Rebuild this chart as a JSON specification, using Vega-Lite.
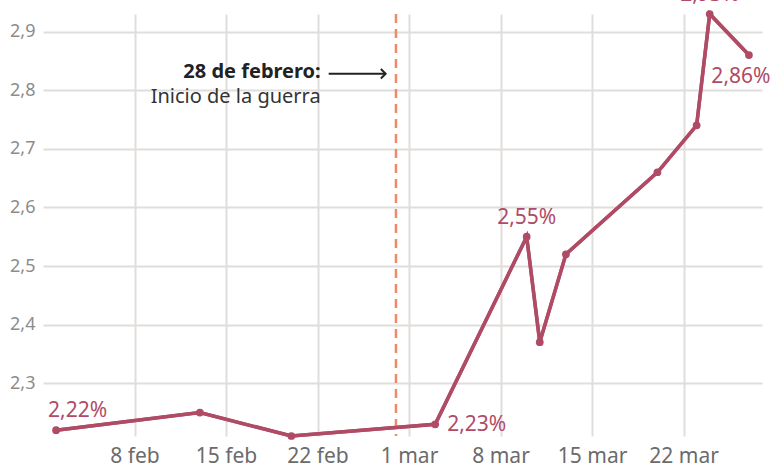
{
  "$schema": "https://vega.github.io/schema/vega-lite/v6.json",
  "width": 719,
  "height": 422,
  "autosize": {"type": "none"},
  "padding": {"left": 43, "top": 14, "right": 9, "bottom": 35},
  "background": "#ffffff",
  "config": {"view": {"stroke": null}, "font": "Noto Sans", "text": {"font": "Noto Sans"}},
  "datasets": {
    "serie": [
      {"date": "2026-02-02", "value": 2.22},
      {"date": "2026-02-13", "value": 2.25},
      {"date": "2026-02-20", "value": 2.21},
      {"date": "2026-03-03", "value": 2.23},
      {"date": "2026-03-10", "value": 2.55},
      {"date": "2026-03-11", "value": 2.37},
      {"date": "2026-03-13", "value": 2.52},
      {"date": "2026-03-20", "value": 2.66},
      {"date": "2026-03-23", "value": 2.74},
      {"date": "2026-03-24", "value": 2.93},
      {"date": "2026-03-27", "value": 2.86}
    ],
    "etiquetas": [
      {"date": "2026-02-02", "value": 2.22, "label": "2,22%"},
      {"date": "2026-03-03", "value": 2.23, "label": "2,23%"},
      {"date": "2026-03-10", "value": 2.55, "label": "2,55%"},
      {"date": "2026-03-24", "value": 2.93, "label": "2,93%"},
      {"date": "2026-03-27", "value": 2.86, "label": "2,86%"}
    ],
    "guerra": [{"date": "2026-02-28"}],
    "flecha": [{"date": "2026-02-22T20:30:00Z", "date2": "2026-02-27T05:00:00Z", "value": 2.828}]
  },
  "layer": [
    {
      "data": {"name": "serie"},
      "mark": {"type": "line", "color": "#b04b66", "strokeWidth": 3.5},
      "encoding": {
        "x": {
          "field": "date", "type": "temporal",
          "scale": {"type": "utc", "domain": [{"year": 2026, "month": 2, "date": 1, "utc": true}, {"year": 2026, "month": 3, "date": 28, "utc": true}]},
          "axis": {
            "title": null,
            "values": [
              {"year": 2026, "month": 2, "date": 8, "utc": true},
              {"year": 2026, "month": 2, "date": 15, "utc": true},
              {"year": 2026, "month": 2, "date": 22, "utc": true},
              {"year": 2026, "month": 3, "date": 1, "utc": true},
              {"year": 2026, "month": 3, "date": 8, "utc": true},
              {"year": 2026, "month": 3, "date": 15, "utc": true},
              {"year": 2026, "month": 3, "date": 22, "utc": true}
            ],
            "labelExpr": "utcdate(datum.value) + ' ' + (utcmonth(datum.value) == 1 ? 'feb' : 'mar')",
            "grid": true, "gridColor": "#e0dedc", "gridWidth": 2,
            "ticks": false, "domain": false,
            "labelFontSize": 21, "labelColor": "#6b6b6b", "labelPadding": 9, "labelFont": "Noto Sans"
          }
        },
        "y": {
          "field": "value", "type": "quantitative",
          "scale": {"domain": [2.21, 2.93], "nice": false, "zero": false},
          "axis": {
            "title": null,
            "values": [2.3, 2.4, 2.5, 2.6, 2.7, 2.8, 2.9],
            "labelExpr": "replace(format(datum.value, '.1f'), '.', ',')",
            "grid": true, "gridColor": "#e0dedc", "gridWidth": 2,
            "ticks": false, "domain": false,
            "labelFontSize": 18, "labelColor": "#8c8c8c", "labelPadding": 8, "labelFont": "Noto Sans"
          }
        }
      }
    },
    {
      "data": {"name": "guerra"},
      "mark": {"type": "rule", "color": "#f0886a", "strokeWidth": 2.5, "strokeDash": [9, 6]},
      "encoding": {"x": {"field": "date", "type": "temporal"}}
    },
    {
      "data": {"name": "serie"},
      "mark": {"type": "line", "color": "#b04b66", "strokeWidth": 3.5},
      "encoding": {
        "x": {"field": "date", "type": "temporal"},
        "y": {"field": "value", "type": "quantitative"}
      }
    },
    {
      "data": {"name": "serie"},
      "mark": {"type": "point", "filled": true, "color": "#b04b66", "size": 60, "opacity": 1},
      "encoding": {
        "x": {"field": "date", "type": "temporal"},
        "y": {"field": "value", "type": "quantitative"}
      }
    },
    {
      "data": {"name": "etiquetas"},
      "transform": [{"filter": "datum.label == '2,22%'"}],
      "mark": {"type": "text", "color": "#b04b66", "fontSize": 21, "align": "left", "baseline": "alphabetic", "dx": -8, "dy": -13, "font": "Noto Sans"},
      "encoding": {
        "x": {"field": "date", "type": "temporal"},
        "y": {"field": "value", "type": "quantitative"},
        "text": {"field": "label"}
      }
    },
    {
      "data": {"name": "etiquetas"},
      "transform": [{"filter": "datum.label == '2,23%'"}],
      "mark": {"type": "text", "color": "#b04b66", "fontSize": 21, "align": "left", "baseline": "middle", "dx": 12, "dy": 1, "font": "Noto Sans"},
      "encoding": {
        "x": {"field": "date", "type": "temporal"},
        "y": {"field": "value", "type": "quantitative"},
        "text": {"field": "label"}
      }
    },
    {
      "data": {"name": "etiquetas"},
      "transform": [{"filter": "datum.label == '2,55%' || datum.label == '2,93%'"}],
      "mark": {"type": "text", "color": "#b04b66", "fontSize": 21, "align": "center", "baseline": "alphabetic", "dx": 0, "dy": -13, "font": "Noto Sans"},
      "encoding": {
        "x": {"field": "date", "type": "temporal"},
        "y": {"field": "value", "type": "quantitative"},
        "text": {"field": "label"}
      }
    },
    {
      "data": {"name": "etiquetas"},
      "transform": [{"filter": "datum.label == '2,86%'"}],
      "mark": {"type": "text", "color": "#b04b66", "fontSize": 21, "align": "center", "baseline": "alphabetic", "dx": -8, "dy": 28, "font": "Noto Sans"},
      "encoding": {
        "x": {"field": "date", "type": "temporal"},
        "y": {"field": "value", "type": "quantitative"},
        "text": {"field": "label"}
      }
    },
    {
      "data": {"name": "flecha"},
      "mark": {"type": "rule", "color": "#222222", "strokeWidth": 2},
      "encoding": {
        "x": {"field": "date", "type": "temporal"},
        "x2": {"field": "date2"},
        "y": {"field": "value", "type": "quantitative"}
      }
    },
    {
      "data": {"name": "flecha"},
      "mark": {"type": "point", "shape": "M-1,-1L0,0L-1,1", "filled": false, "color": "#222222", "strokeWidth": 2, "size": 90, "opacity": 1},
      "encoding": {
        "x": {"field": "date2", "type": "temporal"},
        "y": {"field": "value", "type": "quantitative"}
      }
    },
    {
      "data": {"name": "flecha"},
      "mark": {"type": "text", "text": "28 de febrero:", "fontWeight": "bold", "fontSize": 20, "color": "#222222", "align": "right", "baseline": "middle", "dx": -8, "dy": -2, "font": "Noto Sans"},
      "encoding": {
        "x": {"field": "date", "type": "temporal"},
        "y": {"field": "value", "type": "quantitative"}
      }
    },
    {
      "data": {"name": "flecha"},
      "mark": {"type": "text", "text": "Inicio de la guerra", "fontSize": 20, "color": "#333333", "align": "right", "baseline": "middle", "dx": -8, "dy": 23, "font": "Noto Sans"},
      "encoding": {
        "x": {"field": "date", "type": "temporal"},
        "y": {"field": "value", "type": "quantitative"}
      }
    }
  ]
}
